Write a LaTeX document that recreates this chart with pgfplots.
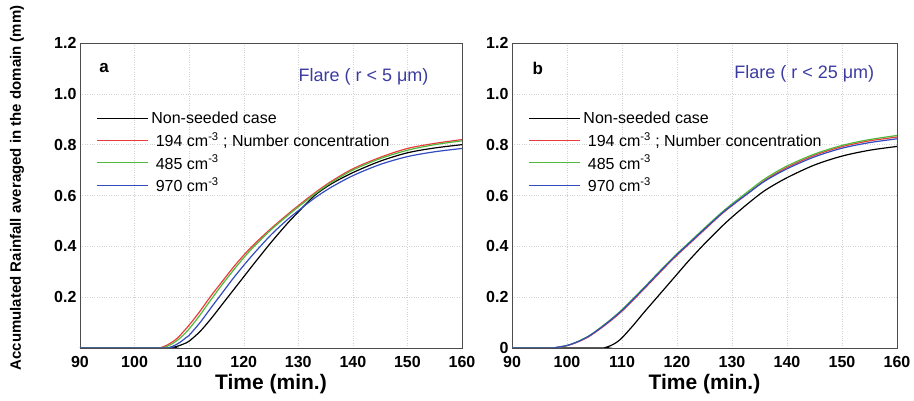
\documentclass[border=0pt]{standalone}
\usepackage{pgfplots}
\pgfplotsset{compat=1.18}
\usepackage{fontspec}
\setmainfont{Liberation Sans}
\definecolor{cred}{RGB}{235,60,60}
\definecolor{cgreen}{RGB}{80,185,60}
\definecolor{cblue}{RGB}{50,75,190}
\definecolor{ttl}{RGB}{60,60,160}
\pgfplotsset{
  base/.style={
    scale only axis, height=305pt,
    xmin=90, xmax=160, ymin=0, ymax=1.2,
    xtick={90,100,...,160},
    grid=major, grid style={dotted, gray!35},
    major tick length=0pt,
    axis line style={black!70, line width=0.8pt},
    /pgf/number format/assume math mode=true,
    /pgf/number format/fixed, /pgf/number format/fixed zerofill, 
    yticklabel style={/pgf/number format/precision=1, font=\fontsize{16}{18}\selectfont\bfseries},
    xticklabel style={/pgf/number format/precision=0, font=\fontsize{16}{18}\selectfont\bfseries, yshift=-5pt},
    xlabel={Time (min.)}, xlabel style={font=\fontsize{21}{24}\selectfont\bfseries, yshift=0pt},
    legend style={draw=none, fill=none, font=\fontsize{16}{18}\selectfont, at={(0.042,0.78)}, anchor=north west, row sep=3pt, inner sep=0pt, nodes={inner xsep=3pt}},
    legend cell align=left,
    legend image code/.code={\draw[##1, line width=1.1pt] (0pt,0pt) -- (51pt,0pt);},
    every axis plot/.append style={line width=1.2pt, no marks, smooth},
  }
}
\begin{document}
\begin{tikzpicture}
\path[use as bounding box] (-80pt,-53pt) rectangle (834pt,348pt);
\begin{axis}[base, width=382pt, at={(0pt,0pt)},
  ytick={0.2,0.4,...,1.2},
  ylabel={Accumulated Rainfall averaged in the domain (mm)},
  ylabel style={font=\fontsize{15}{17}\selectfont\bfseries, at={(axis description cs:-0.165,0.525)}, anchor=center}]
\addplot[black] coordinates {(90,0)(106,0)(107,0.002)(108,0.008)(109,0.016)(110,0.027)(112,0.065)(114,0.115)(116,0.17)(118,0.225)(120,0.28)(122,0.335)(125,0.415)(128,0.49)(130,0.535)(133,0.6)(136,0.645)(140,0.69)(145,0.735)(150,0.768)(155,0.787)(160,0.80)};
\addlegendentry{Non-seeded case}
\addplot[cred] coordinates {(90,0)(104,0)(105,0.003)(106,0.012)(107,0.025)(108,0.042)(110,0.09)(112,0.145)(114,0.205)(116,0.26)(118,0.315)(120,0.365)(122,0.41)(125,0.47)(128,0.525)(130,0.56)(133,0.61)(136,0.655)(140,0.705)(145,0.75)(150,0.785)(155,0.805)(160,0.82)};
\addlegendentry{\ 194 cm\textsuperscript{-3} ; Number concentration}
\addplot[cgreen] coordinates {(90,0)(104.5,0)(105.5,0.003)(106.5,0.012)(107.5,0.025)(108.5,0.042)(110,0.075)(112,0.13)(114,0.19)(116,0.248)(118,0.303)(120,0.355)(122,0.402)(125,0.465)(128,0.52)(130,0.555)(133,0.605)(136,0.65)(140,0.7)(145,0.745)(150,0.778)(155,0.8)(160,0.815)};
\addlegendentry{\ 485 cm\textsuperscript{-3}}
\addplot[cblue] coordinates {(90,0)(105.5,0)(106.5,0.003)(107.5,0.012)(108.5,0.025)(109.5,0.042)(110,0.05)(112,0.1)(114,0.158)(116,0.215)(118,0.272)(120,0.325)(122,0.375)(125,0.445)(128,0.505)(130,0.54)(133,0.59)(136,0.632)(140,0.678)(145,0.722)(150,0.753)(155,0.772)(160,0.785)};
\addlegendentry{\ 970 cm\textsuperscript{-3}}
\node[font=\fontsize{17}{20}\selectfont\bfseries] at (axis cs:94.4,1.10) {a};
\node[anchor=east, font=\fontsize{18}{21}\selectfont, text=ttl] at (axis cs:154.5,1.067) {Flare ( r < 5 μm)};
\end{axis}
\begin{axis}[base, width=385pt, at={(432pt,0pt)},
  ytick={0,0.2,...,1.2}, yticklabels={0,0.2,0.4,0.6,0.8,1.0,1.2}]
\addplot[black] coordinates {(90,0)(106,0)(107,0.002)(108,0.01)(109,0.022)(110,0.04)(112,0.088)(114,0.14)(116,0.19)(118,0.24)(120,0.29)(122,0.34)(125,0.41)(128,0.475)(130,0.515)(133,0.57)(136,0.62)(140,0.67)(145,0.72)(150,0.755)(155,0.778)(160,0.793)};
\addlegendentry{Non-seeded case}
\addplot[cred] coordinates {(90,0)(97,0)(98,0.002)(100,0.009)(102,0.024)(104,0.045)(106,0.075)(108,0.108)(110,0.145)(112,0.188)(114,0.232)(116,0.277)(118,0.322)(120,0.365)(122,0.405)(125,0.465)(128,0.525)(130,0.56)(133,0.61)(136,0.66)(140,0.71)(145,0.758)(150,0.792)(155,0.815)(160,0.83)};
\addlegendentry{\ 194 cm\textsuperscript{-3} ; Number concentration}
\addplot[cgreen] coordinates {(90,0)(97,0)(98,0.002)(100,0.01)(102,0.026)(104,0.048)(106,0.079)(108,0.113)(110,0.151)(112,0.194)(114,0.238)(116,0.283)(118,0.328)(120,0.371)(122,0.411)(125,0.472)(128,0.531)(130,0.567)(133,0.617)(136,0.666)(140,0.716)(145,0.763)(150,0.797)(155,0.82)(160,0.836)};
\addlegendentry{\ 485 cm\textsuperscript{-3}}
\addplot[cblue] coordinates {(90,0)(97,0)(98,0.002)(100,0.01)(102,0.025)(104,0.047)(106,0.077)(108,0.111)(110,0.148)(112,0.191)(114,0.235)(116,0.28)(118,0.325)(120,0.368)(122,0.408)(125,0.468)(128,0.527)(130,0.562)(133,0.61)(136,0.657)(140,0.705)(145,0.752)(150,0.786)(155,0.808)(160,0.823)};
\addlegendentry{\ 970 cm\textsuperscript{-3}}
\node[font=\fontsize{17}{20}\selectfont\bfseries] at (axis cs:94.7,1.10) {b};
\node[anchor=east, font=\fontsize{18}{21}\selectfont, text=ttl] at (axis cs:156.5,1.08) {Flare ( r < 25 μm)};
\end{axis}
\end{tikzpicture}
\end{document}
